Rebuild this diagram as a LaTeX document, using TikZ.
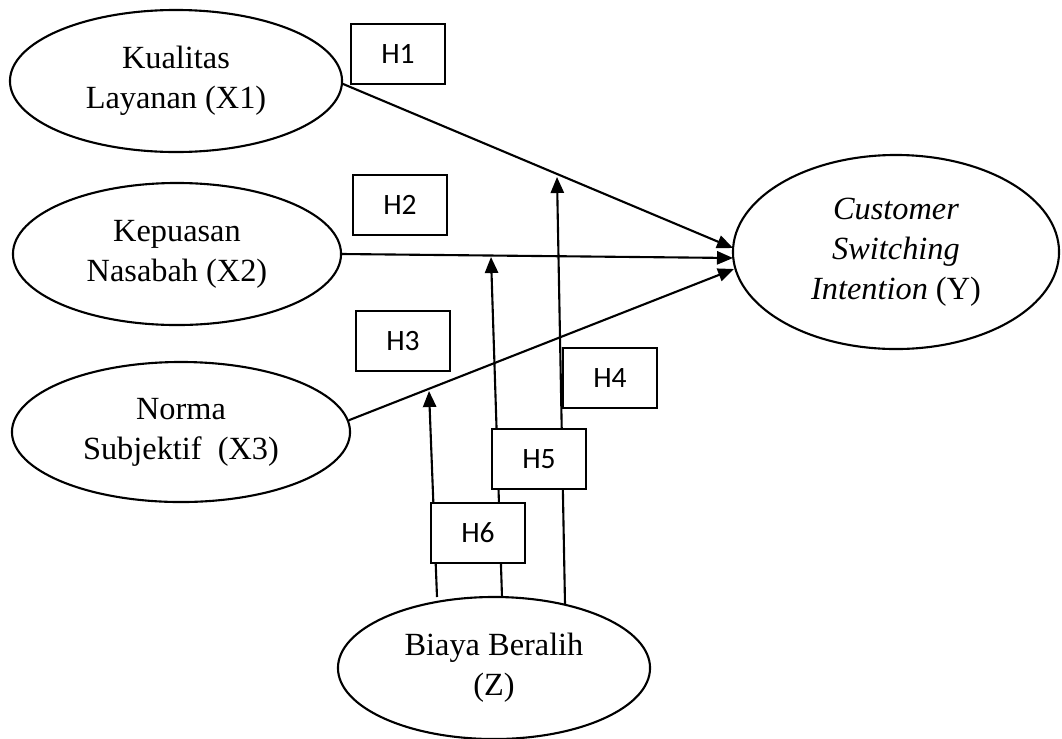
\documentclass[tikz,border=0pt]{standalone}
\usepackage{fontspec}
\setmainfont{Liberation Serif}
\newfontfamily\calibri{Carlito}
\usepackage{tikz}
\usetikzlibrary{arrows.meta}
\usetikzlibrary{shapes.geometric}
\newcommand{\drawarrow}{\draw[-{Triangle[length=0.4cm,width=0.33cm]}]}

\begin{document}
\begin{tikzpicture}[x=0.025cm, y=-0.025cm, line width=1.5pt,
    var/.style={ellipse, draw, inner sep=0pt, align=center, font=\fontsize{23}{28.5}\selectfont},
    hyp/.style={rectangle, draw, fill=white, minimum width=2.33cm, minimum height=1.5cm, inner sep=0pt, font=\calibri\fontsize{21}{25}\selectfont}]
    \useasboundingbox (0,0) rectangle (1062,738);

    % Draw variables
    \node[var, minimum width=8.3cm, minimum height=3.55cm] (x1) at (176,81) {Kualitas\\Layanan (X1)};
    \node[var, minimum width=8.2cm, minimum height=3.55cm] (x2) at (177,254) {Kepuasan\\Nasabah (X2)};
    \node[var, minimum width=8.45cm, minimum height=3.5cm] (x3) at (181,432) {Norma\\Subjektif\ \ (X3)};
    \node[var, minimum width=8.15cm, minimum height=4.85cm] (y) at (896,252) {\textit{Customer}\\\textit{Switching}\\\textit{Intention} (Y)};
    \node[var, minimum width=7.8cm, minimum height=3.55cm] (z) at (494,668) {Biaya Beralih\\(Z)};

    % Draw direct effects
    \coordinate (t1) at (733,248);
    \coordinate (t2) at (733,258);
    \coordinate (t3) at (734,269);
    \drawarrow (x1.-1.5) -- (t1);
    \drawarrow (x2.east) -- (t2);
    \drawarrow (x3.4) -- (t3);

    % Draw moderation
    \coordinate (f1) at (437,597);
    \coordinate (f2) at (502,597);
    \coordinate (f3) at (565,604);
    \coordinate (m1) at (429,391);
    \coordinate (m2) at (491,257);
    \coordinate (m3) at (557,177);
    \drawarrow (f1) -- (m1);
    \drawarrow (f2) -- (m2);
    \drawarrow (f3) -- (m3);

    % Draw hypotheses
    \node[hyp] (h1) at (398,54) {H1};
    \node[hyp] (h2) at (400,205) {H2};
    \node[hyp] (h3) at (403,341) {H3};
    \node[hyp] (h4) at (610,378) {H4};
    \node[hyp] (h5) at (539,459) {H5};
    \node[hyp] (h6) at (478,533) {H6};
\end{tikzpicture}
\end{document}
